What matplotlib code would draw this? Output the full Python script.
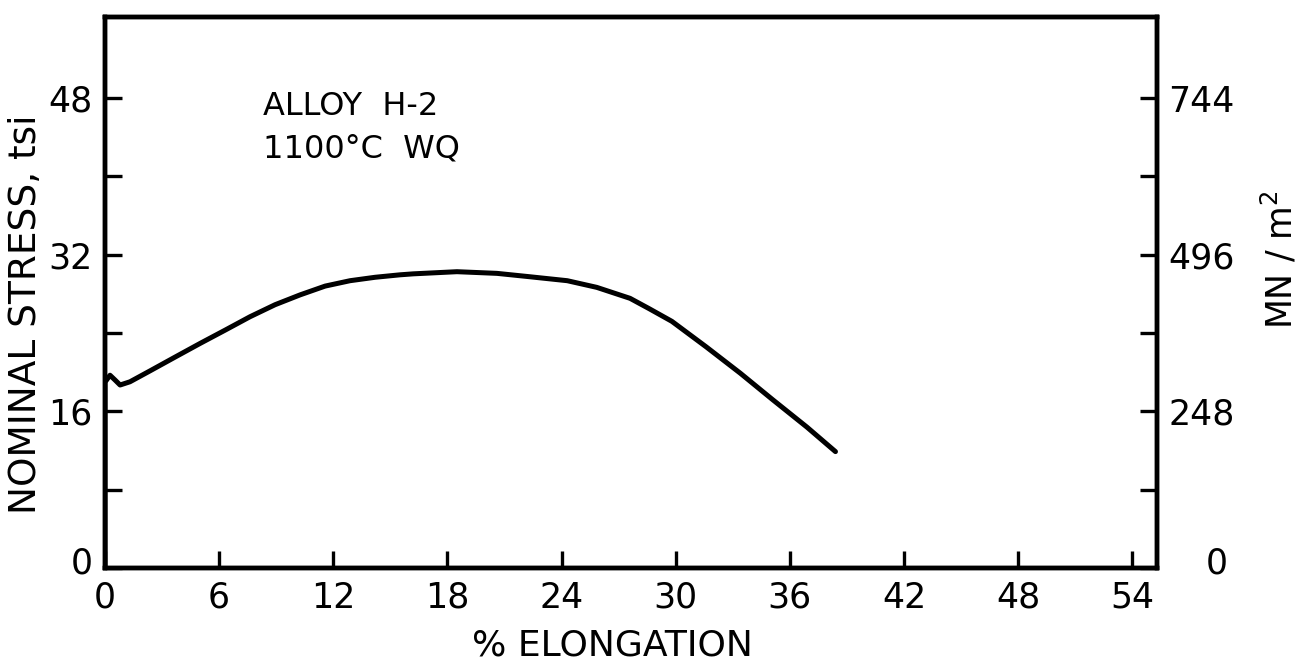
import matplotlib
matplotlib.use("Agg")
import matplotlib.pyplot as plt
from matplotlib.transforms import ScaledTranslation

# Data
elongation = [0.0, 0.0, 0.26, 0.53, 0.79, 1.31, 2.37, 3.68, 5.0, 6.31, 7.62, 8.94,
              10.25, 11.57, 12.88, 14.2, 15.5, 16.2, 18.5, 20.6, 22.3, 24.3, 25.85,
              27.6, 28.6, 29.8, 31.6, 33.4, 35.1, 36.9, 38.4]
stress_tsi = [0.0, 19.0, 19.7, 19.2, 18.7, 19.03, 20.15, 21.55, 22.95, 24.3, 25.67, 26.9,
              27.9, 28.8, 29.35, 29.7, 29.95, 30.05, 30.27, 30.1, 29.76, 29.35, 28.67,
              27.55, 26.5, 25.2, 22.6, 19.9, 17.2, 14.4, 11.9]

x_ticks = [0, 6, 12, 18, 24, 30, 36, 42, 48, 54]
y_major = [0, 16, 32, 48]
y_minor = [8, 24, 40]
left_labels = ["0", "16", "32", "48"]
right_labels = ["0", "248", "496", "744"]

plt.rcParams["font.family"] = ["DejaVu Sans"]

fig = plt.figure(figsize=(12.97, 6.70), dpi=100)
ax = fig.add_axes([0.081, 0.152, 0.811, 0.823])

ax.plot(elongation, stress_tsi, color="black", lw=3.6, solid_capstyle="round",
        solid_joinstyle="round")

ax.set_xlim(0, 55.3)
ax.set_ylim(0, 56.3)

for s in ax.spines.values():
    s.set_linewidth(3.2)

ax.set_xticks(x_ticks)
ax.set_xticklabels([str(v) for v in x_ticks])
ax.set_yticks(y_major)
ax.set_yticklabels(left_labels)
ax.set_yticks(y_minor, minor=True)

ax.tick_params(axis="both", which="both", direction="in", length=12, width=2.4,
               labelsize=25, pad=9)
ax.tick_params(axis="x", which="both", top=False)
ax.tick_params(axis="y", which="both", right=False)

ax2 = ax.twinx()
ax2.set_ylim(ax.get_ylim())
ax2.set_yticks(y_major)
ax2.set_yticklabels(right_labels)
ax2.set_yticks(y_minor, minor=True)
ax2.tick_params(axis="y", which="both", direction="in", length=12, width=2.4,
                labelsize=25, pad=8)
for s in ax2.spines.values():
    s.set_linewidth(3.2)

# shift the "0" labels like in the reference
lbl0 = ax2.get_yticklabels()[0]
lbl0.set_transform(lbl0.get_transform() + ScaledTranslation(0.38, 0.08, fig.dpi_scale_trans))
lbl_l0 = ax.get_yticklabels()[0]
lbl_l0.set_transform(lbl_l0.get_transform() + ScaledTranslation(0, 0.08, fig.dpi_scale_trans))

ax.set_xlabel("% ELONGATION", fontsize=26)
ax.xaxis.set_label_coords(0.482, -0.11)
ax.set_ylabel("NOMINAL STRESS, tsi", fontsize=27)
ax.yaxis.set_label_coords(-0.058, 0.46)
ax2.set_ylabel("MN / m$^\\mathregular{2}$", fontsize=25)
ax2.yaxis.set_label_coords(1.098, 0.56)

ax.text(8.3, 46.3, "ALLOY  H-2", fontsize=23, va="baseline", ha="left")
ax.text(8.3, 41.9, "1100°C  WQ", fontsize=23, va="baseline", ha="left")

fig.savefig("out.png", dpi=100, facecolor="white")
